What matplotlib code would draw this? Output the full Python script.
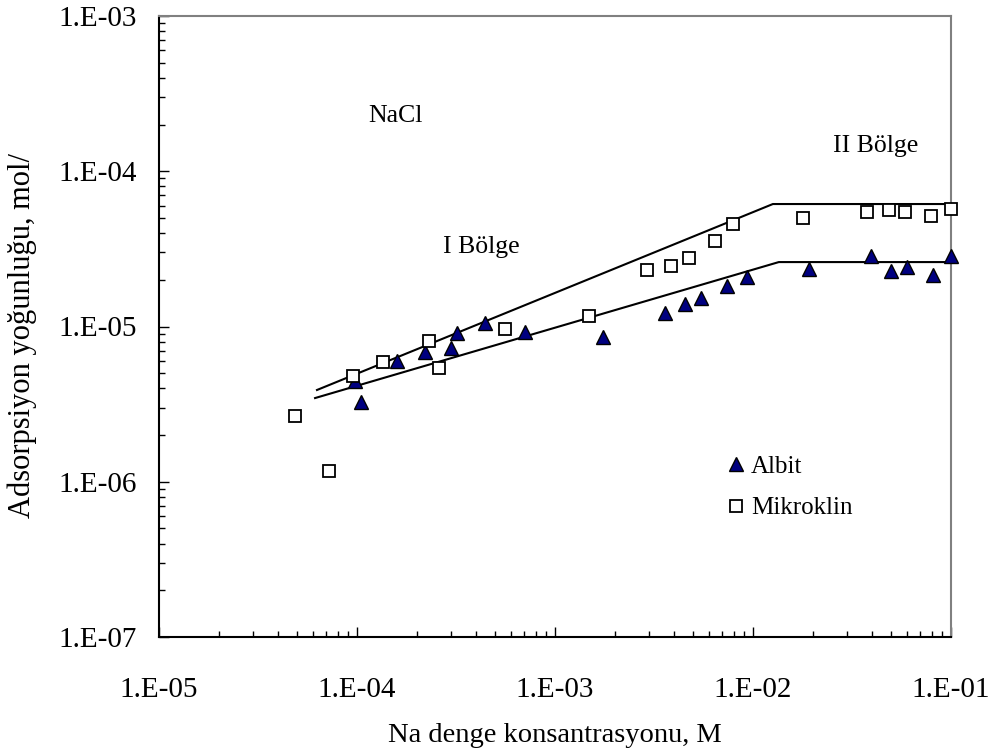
"""Adsorption density of Na on albite and microcline (NaCl), log-log."""

import matplotlib
matplotlib.use("Agg")
import matplotlib.pyplot as plt
import numpy as np
from matplotlib.ticker import FuncFormatter, LogLocator, NullFormatter

# Albit (triangles)
albit_x = [9.77e-5, 1.05e-4, 1.59e-4, 2.20e-4, 2.98e-4, 3.20e-4, 4.43e-4, 7.05e-4,
           1.75e-3, 3.60e-3, 4.54e-3, 5.46e-3, 7.39e-3, 9.33e-3, 1.92e-2,
           3.94e-2, 4.98e-2, 6.00e-2, 8.11e-2, 1.00e-1]
albit_y = [4.46e-6, 3.27e-6, 6.0e-6, 6.85e-6, 7.27e-6, 9.08e-6, 1.05e-5, 9.22e-6,
           8.56e-6, 1.22e-5, 1.40e-5, 1.53e-5, 1.82e-5, 2.08e-5, 2.35e-5,
           2.85e-5, 2.28e-5, 2.42e-5, 2.15e-5, 2.85e-5]

# Mikroklin (open squares)
mikro_x = [4.87e-5, 7.23e-5, 9.55e-5, 1.35e-4, 2.31e-4, 2.60e-4, 5.60e-4,
           1.48e-3, 2.92e-3, 3.85e-3, 4.75e-3, 6.43e-3, 7.93e-3, 1.79e-2,
           3.77e-2, 4.86e-2, 5.86e-2, 7.93e-2, 1.00e-1]
mikro_y = [2.65e-6, 1.17e-6, 4.8e-6, 5.9e-6, 8.07e-6, 5.4e-6, 9.6e-6,
           1.17e-5, 2.31e-5, 2.45e-5, 2.76e-5, 3.55e-5, 4.57e-5, 5.0e-5,
           5.47e-5, 5.63e-5, 5.47e-5, 5.15e-5, 5.71e-5]

# fitted lines (I Bölge slope, II Bölge plateau)
fit_mikro_x = [6.28e-5, 1.26e-2, 1.0e-1]
fit_mikro_y = [3.9e-6, 6.15e-5, 6.15e-5]
fit_albit_x = [6.14e-5, 1.35e-2, 1.0e-1]
fit_albit_y = [3.46e-6, 2.6e-5, 2.6e-5]

plt.rcParams["font.family"] = ["Liberation Serif", "DejaVu Serif"]

fig = plt.figure(figsize=(9.94, 7.54), dpi=100)
ax = fig.add_axes([159 / 994, 1 - 637 / 754, 792 / 994, 621 / 754])

ax.plot(fit_mikro_x, fit_mikro_y, color="black", lw=1.5)
ax.plot(fit_albit_x, fit_albit_y, color="black", lw=1.5)
ax.plot(albit_x, albit_y, "^", ms=10, mfc="#000080", mec="black", mew=1.0,
        ls="none", label="Albit", clip_on=False, zorder=3)
ax.plot(mikro_x, mikro_y, "s", ms=9, mfc="white", mec="black", mew=1.3,
        ls="none", label="Mikroklin", clip_on=False, zorder=3)

ax.set_xscale("log")
ax.set_yscale("log")
ax.set_xlim(1e-5, 1e-1)
ax.set_ylim(1e-7, 1e-3)

fmt = FuncFormatter(lambda v, p: f"1.E{int(round(np.log10(v))):03d}")
for axis in (ax.xaxis, ax.yaxis):
    axis.set_major_locator(LogLocator(base=10, numticks=10))
    axis.set_minor_locator(LogLocator(base=10, subs=np.arange(2, 10), numticks=10))
    axis.set_major_formatter(fmt)
    axis.set_minor_formatter(NullFormatter())

ax.tick_params(which="both", direction="in", top=False, right=False,
               colors="black", labelsize=21)
ax.tick_params(which="major", length=7, width=1)
ax.tick_params(which="minor", length=4.5, width=1)
ax.tick_params(axis="x", which="major", pad=29)
ax.tick_params(axis="y", which="major", pad=16)

for side in ("top", "right"):
    ax.spines[side].set_color("#808080")
    ax.spines[side].set_linewidth(1.5)
for side in ("left", "bottom"):
    ax.spines[side].set_color("black")
    ax.spines[side].set_linewidth(1.5)

ax.text(1.14e-4, 2.08e-4, "NaCl", fontsize=18.5, ha="left", va="baseline")
ax.text(2.72e-4, 2.97e-5, "I Bölge", fontsize=18.5, ha="left", va="baseline")
ax.text(2.54e-2, 1.33e-4, "II Bölge", fontsize=18.5, ha="left", va="baseline")

ax.legend(loc="upper left", bbox_to_anchor=(0.703, 0.308), frameon=False,
          fontsize=18, handlelength=0.8, handletextpad=0.2, labelspacing=0.75,
          borderaxespad=0)

fig.text(555 / 994, 1 - 742 / 754, "Na denge konsantrasyonu, M", fontsize=20.5,
         ha="center", va="baseline")
fig.text(22 / 994, 1 - 336 / 754, "Adsorpsiyon yoğunluğu, mol/", fontsize=22,
         ha="center", va="center", rotation=90)

fig.savefig("out.png", dpi=100)
